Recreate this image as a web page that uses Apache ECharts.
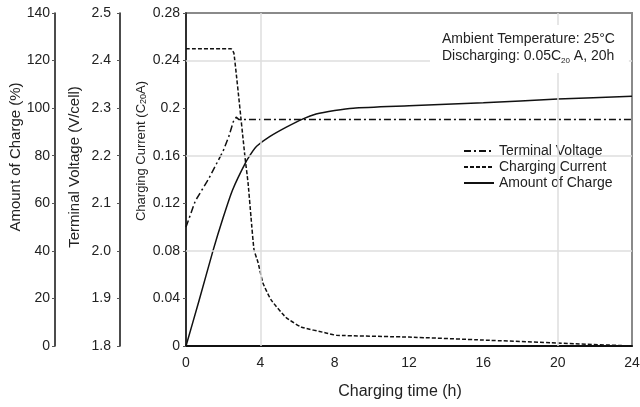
<!DOCTYPE html>
<html>
<head>
<meta charset="utf-8">
<script src="https://cdn.jsdelivr.net/npm/echarts@6/dist/echarts.min.js"></script>
<style>
  html, body { margin: 0; padding: 0; background: #fff; }
  #main { width: 640px; height: 407px; }
</style>
</head>
<body>
<div id="main"></div>
<script>
var timeV = [0, 0.5, 1.2, 2.0, 2.3, 2.55, 2.7, 2.85, 24]
var voltage = [2.05, 2.105, 2.15, 2.21, 2.24, 2.272, 2.281, 2.276, 2.276]

var timeC = [0, 2.42, 2.58, 3.18, 3.34, 3.5, 3.66, 3.88, 4.14, 4.57, 5.38, 6.19, 7.53, 8.1, 12, 16, 20, 24]
var current = [0.25, 0.25, 0.246, 0.158, 0.137, 0.108, 0.081, 0.07, 0.053, 0.039, 0.024, 0.016, 0.011, 0.009, 0.0075, 0.005, 0.0025, 0]

var timeA = [0, 0.7, 1.45, 2.0, 2.5, 3.2, 3.6, 3.8, 4.5, 5.4, 6.3, 7, 8, 9, 12, 16, 20, 24]
var amount = [0, 19, 40, 54, 65.5, 77, 82, 84, 88, 92, 95.5, 97.5, 99, 100, 101, 102.3, 103.8, 105]

// grid lines that show in the original
var gridY = [0.08, 0.16, 0.24]
var gridX = [4, 20]

var legendData = ['Terminal Voltage', 'Charging Current', 'Amount of Charge']

function pairs (xs, ys) {
    return xs.map(function (x, i) { return [x, ys[i]] })
}

var font = 'Liberation Sans, Arial, sans-serif'
var black = '#111'

var markData = []
gridY.forEach(function (v) { markData.push({ yAxis: v }) })
gridX.forEach(function (v) { markData.push({ xAxis: v }) })

function yAxisBase (offset, margin) {
    return {
        type: 'value',
        position: 'left',
        offset: offset,
        nameLocation: 'middle',
        nameRotate: 90,
        nameMoveOverlap: false,
        axisLine: { show: true, lineStyle: { color: black, width: 1.5 } },
        axisTick: { show: true, length: 3, lineStyle: { color: '#555' } },
        axisLabel: { color: '#222', fontSize: 14, fontFamily: font, margin: margin },
        splitLine: { show: false }
    }
}

var yCur = yAxisBase(0, 6)
yCur.min = 0
yCur.max = 0.28
yCur.interval = 0.04
yCur.name = '{a|Charging Current (C}{s|20}{a|A)}'
yCur.nameGap = 38
yCur.nameTextStyle = {
    padding: [0, 0, 0, 57],
    rich: {
        a: { fontSize: 13, fontFamily: font, color: '#222' },
        s: { fontSize: 9, fontFamily: font, color: '#222', verticalAlign: 'bottom', padding: [5, 0, 0, 0] }
    }
}

var yVolt = yAxisBase(66, 9)
yVolt.min = 1.8
yVolt.max = 2.5
yVolt.interval = 0.1
yVolt.axisLabel.formatter = function (v) { return v.toFixed(1) }
yVolt.name = 'Terminal Voltage (V/cell)'
yVolt.nameGap = 38
yVolt.nameTextStyle = { fontSize: 15, fontFamily: font, color: '#222', padding: [0, 0, 0, 25] }

var yAmt = yAxisBase(131, 5)
yAmt.min = 0
yAmt.max = 140
yAmt.interval = 20
yAmt.name = 'Amount of Charge (%)'
yAmt.nameGap = 32
yAmt.nameTextStyle = { fontSize: 15, fontFamily: font, color: '#222', padding: [0, 0, 0, 45] }

var option = {
    animation: false,
    backgroundColor: '#fff',
    grid: {
        left: 186, right: 8, top: 13, bottom: 61,
        outerBoundsMode: 'none',
        containLabel: false,
        show: true, borderColor: '#8a8a8a', borderWidth: 2, backgroundColor: 'transparent'
    },
    legend: {
        show: true,
        data: legendData,
        orient: 'vertical',
        left: 458,
        top: 139,
        itemWidth: 30,
        itemHeight: 14,
        itemGap: 2,
        itemStyle: { opacity: 0 },
        textStyle: { fontSize: 14, fontFamily: font, color: '#222' }
    },
    xAxis: {
        type: 'value',
        min: 0,
        max: 24,
        interval: 4,
        name: 'Charging time (h)',
        nameLocation: 'middle',
        nameGap: 38,
        nameMoveOverlap: false,
        nameTextStyle: { fontSize: 16, fontFamily: font, color: '#222', padding: [0, 18, 0, 0] },
        axisLine: { show: true, lineStyle: { color: black, width: 2 } },
        axisTick: { show: false },
        axisLabel: { color: '#222', fontSize: 14, fontFamily: font, margin: 10 },
        splitLine: { show: false }
    },
    yAxis: [yCur, yVolt, yAmt],
    graphic: [{
        type: 'text',
        left: 430,
        top: 25,
        z: 10,
        style: {
            text: '{a|Ambient Temperature: 25°C}\n{a|Discharging: 0.05C}{s|20}{a| A, 20h}',
            backgroundColor: '#fff',
            padding: [6, 14, 8, 12],
            rich: {
                a: { fontSize: 14, fontFamily: font, fill: '#222', lineHeight: 17 },
                s: { fontSize: 8, fontFamily: font, fill: '#222', lineHeight: 17, verticalAlign: 'bottom' }
            }
        }
    }],
    series: [{
        name: 'grid',
        type: 'line',
        data: [],
        yAxisIndex: 0,
        z: 1,
        markLine: {
            silent: true,
            symbol: 'none',
            animation: false,
            label: { show: false },
            lineStyle: { color: '#dedede', width: 1.5, type: 'solid' },
            data: markData
        }
    }, {
        name: 'Terminal Voltage',
        type: 'line',
        yAxisIndex: 1,
        z: 3,
        symbol: 'none',
        lineStyle: { color: black, width: 1.5, type: [7, 3, 2, 3] },
        itemStyle: { color: black },
        data: pairs(timeV, voltage)
    }, {
        name: 'Charging Current',
        type: 'line',
        yAxisIndex: 0,
        z: 3,
        symbol: 'none',
        smooth: 0.15,
        lineStyle: { color: black, width: 1.5, type: [4, 2] },
        itemStyle: { color: black },
        data: pairs(timeC, current)
    }, {
        name: 'Amount of Charge',
        type: 'line',
        yAxisIndex: 2,
        z: 3,
        symbol: 'none',
        smooth: 0.2,
        lineStyle: { color: black, width: 1.5 },
        itemStyle: { color: black },
        data: pairs(timeA, amount)
    }]
}

var myChart = echarts.init(document.getElementById('main'))
myChart.setOption(option)
</script>
</body>
</html>
